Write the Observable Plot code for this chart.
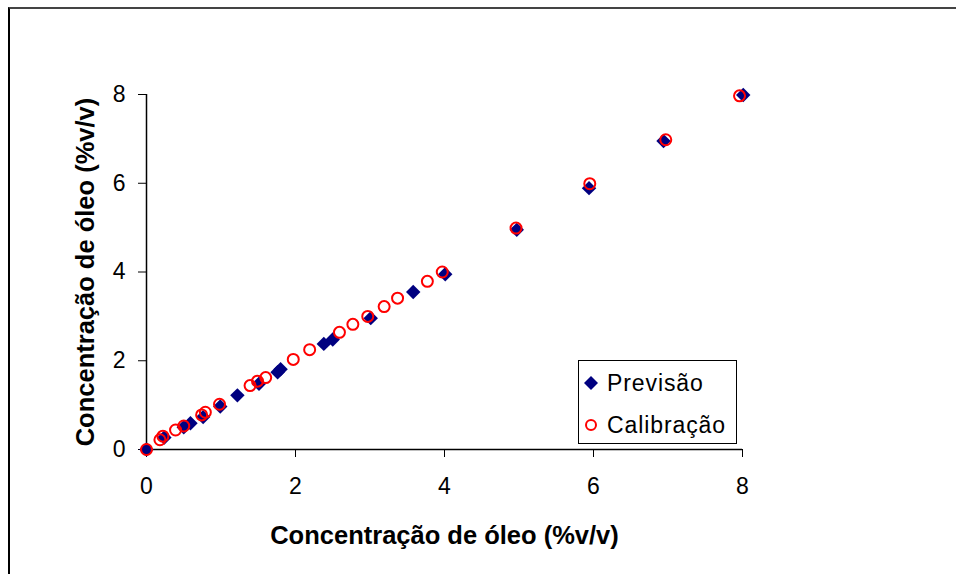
<!DOCTYPE html>
<html>
<head>
<meta charset="utf-8">
<script src="https://cdn.jsdelivr.net/npm/d3@7"></script>
<script src="https://cdn.jsdelivr.net/npm/@observablehq/plot@0.6"></script>
<style>
  html, body { margin: 0; padding: 0; background: #fff; }
  #wrap { position: relative; width: 956px; height: 574px; overflow: hidden; font-family: "Liberation Sans", Arial, sans-serif; }
  #border { position: absolute; left: 8px; top: 7px; width: 960px; height: 580px; border-left: 2px solid #000; border-top: 2px solid #444; box-sizing: border-box; pointer-events: none; }
  #legend { position: absolute; left: 578px; top: 360px; width: 159px; height: 84px; border: 1px solid #000; box-sizing: border-box; background: #fff; }
  .item { position: absolute; left: 0; height: 30px; display: flex; align-items: center; font-size: 23px; letter-spacing: 0.9px; color: #000; white-space: nowrap; }
  .item svg { margin-left: 2px; margin-right: 6px; }
</style>
</head>
<body>
<div id="wrap">
  <div id="chart"></div>
  <div id="border"></div>
  <div id="legend">
    <div class="item" style="top:7px"><svg width="20" height="20"><path d="M10,3 L17,10 L10,17 L3,10 Z" fill="#000080"/></svg>Previsão</div>
    <div class="item" style="top:49px"><svg width="20" height="20"><circle cx="10" cy="10" r="5" fill="none" stroke="#ff0000" stroke-width="2"/></svg>Calibração</div>
  </div>
</div>
<script>
// Calibração (red hollow circles)
const calX = [0, 0.18, 0.22, 0.39, 0.50, 0.74, 0.79, 0.98, 1.39, 1.49, 1.60, 1.97, 2.19, 2.59, 2.77, 2.97, 3.19, 3.37, 3.77, 3.97, 4.96, 5.95, 6.97, 7.96];
const calY = [0, 0.22, 0.30, 0.44, 0.53, 0.78, 0.84, 1.02, 1.44, 1.54, 1.62, 2.03, 2.25, 2.64, 2.82, 3.00, 3.22, 3.41, 3.79, 4.00, 4.99, 5.99, 6.98, 7.97];
// Previsão (navy diamonds)
const preX = [0, 0.24, 0.50, 0.59, 0.76, 0.99, 1.22, 1.51, 1.76, 1.80, 2.38, 2.50, 3.01, 3.58, 4.01, 4.97, 5.94, 6.94, 8.01];
const preY = [0, 0.27, 0.50, 0.59, 0.73, 0.97, 1.22, 1.48, 1.74, 1.81, 2.38, 2.48, 2.96, 3.55, 3.95, 4.95, 5.89, 6.95, 7.99];
const ticks = [0, 2, 4, 6, 8];
const xTitle = "Concentração de óleo (%v/v)";
const yTitle = "Concentração de óleo (%v/v)";

const cal = calX.map((x, i) => ({x, y: calY[i]}));
const pre = preX.map((x, i) => ({x, y: preY[i]}));

const font = "Liberation Sans, Arial, sans-serif";

const chart = Plot.plot({
  width: 956,
  height: 574,
  marginLeft: 146,
  marginRight: 214,
  marginTop: 94,
  marginBottom: 125,
  style: {fontFamily: font, background: "#fff", overflow: "visible"},
  x: {domain: [0, 8], label: null},
  y: {domain: [0, 8], label: null},
  marks: [
    Plot.axisX({ticks, tickSize: 8, text: null, label: null, stroke: "#000"}),
    Plot.axisY({ticks, tickSize: 8, text: null, label: null, stroke: "#000"}),
    Plot.text(ticks, {x: d => d, frameAnchor: "bottom", lineAnchor: "middle", dy: 37, fontSize: 23, fill: "#000"}),
    Plot.text(ticks, {y: d => d, frameAnchor: "left", textAnchor: "end", lineAnchor: "middle", dx: -21, fontSize: 23, fill: "#000"}),
    Plot.ruleY([0], {stroke: "#000", strokeWidth: 1.5}),
    Plot.ruleX([0], {stroke: "#000", strokeWidth: 1.5}),
    Plot.dot(pre, {x: "x", y: "y", symbol: "diamond2", r: 6.5, fill: "#000080", stroke: "none"}),
    Plot.dot(cal, {x: "x", y: "y", symbol: "circle", r: 5.5, fill: "none", stroke: "#ff0000", strokeWidth: 2}),
    Plot.text([xTitle], {frameAnchor: "bottom", lineAnchor: "middle", textAnchor: "middle", dy: 86, fontSize: 25.5, fontWeight: "bold", fill: "#000"}),
    Plot.text([yTitle], {frameAnchor: "left", lineAnchor: "middle", textAnchor: "middle", dx: -61, rotate: -90, fontSize: 25.5, fontWeight: "bold", fill: "#000"})
  ]
});
document.getElementById("chart").appendChild(chart);
</script>
</body>
</html>
